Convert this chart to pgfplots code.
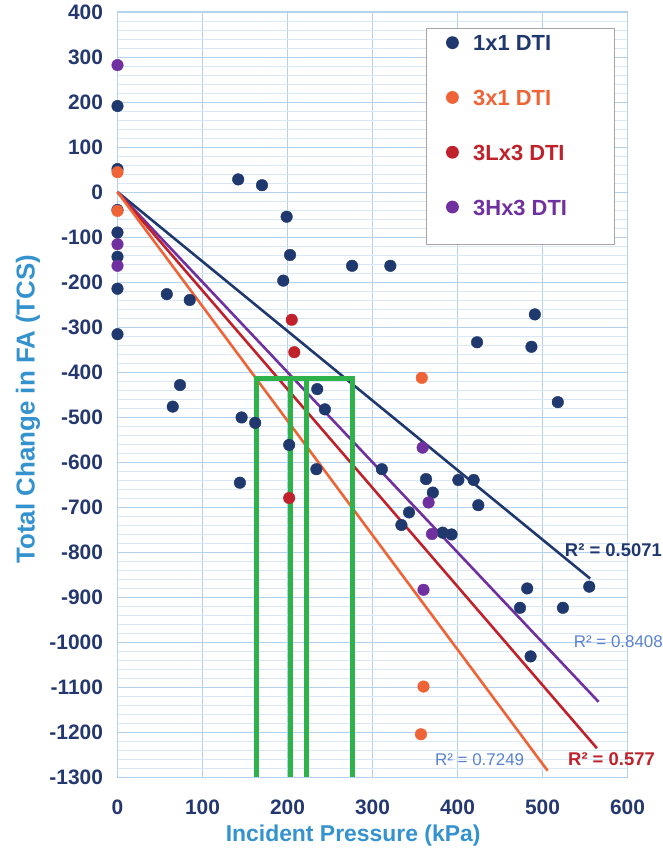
\documentclass[border=0pt]{standalone}
\usepackage{pgfplots}
\pgfplotsset{compat=1.18}
\usepackage{fontspec}
\setmainfont{Liberation Sans}
\definecolor{navy}{HTML}{1F386E}
\definecolor{tickc}{HTML}{24386F}
\definecolor{orng}{HTML}{EF6436}
\definecolor{redd}{HTML}{C0222B}
\definecolor{purp}{HTML}{7030A0}
\definecolor{labc}{HTML}{3492CE}
\definecolor{rlight}{HTML}{5A82CF}
\definecolor{grn}{HTML}{2DB34A}
\definecolor{gridmaj}{HTML}{B4D2EE}
\definecolor{gridmin}{HTML}{D8E8F6}

\pgfplotsset{
  dotlegend/.style={legend image code/.code={\draw[mark repeat=2,mark phase=2,##1] plot coordinates {(0cm,8bp) (0.3cm,8bp) (0.6cm,8bp)};}},
  deeplegend/.style={legend image code/.code={\draw[mark repeat=2,mark phase=2,##1] plot coordinates {(0cm,8bp) (0.3cm,8bp) (0.6cm,8bp)}; \path (0.3cm,-27bp);}},
}

\pgfplotstableread{
x y
0 191
0 51
0 -40
0 -90
0 -144
0 -215
0 -316
58 -227
85 -240
142 28
170 15
199 -55
203 -140
195 -197
73.5 -429
65 -477
235 -438
244 -483
146 -501
162 -513
202 -562
234 -616
144 -646
276 -164
321 -164
491 -272
423 -334
487 -344
518 -467
311 -616
363 -638
401 -640
419 -640
371 -668
424.5 -696
343 -712
334 -740
382.6 -757
393 -761
482 -881
555 -877
473.5 -924
524 -924
486 -1032
}\dataA
\pgfplotstableread{
x y
0 44
0 -42
358 -413
360 -1099
357 -1205
}\dataB
\pgfplotstableread{
x y
205 -284
208 -356
202 -680
}\dataC
\pgfplotstableread{
x y
0 282
0 -116
0 -164
359 -568
366 -690
370 -760
360 -884
}\dataD

\newcommand{\legtxt}[2]{\hspace*{11bp}\makebox[117bp][l]{\textcolor{#1}{#2}}}

\begin{document}
\begin{tikzpicture}
\begin{axis}[
  scale only axis,
  width=510bp, height=765bp,
  xmin=0, xmax=600, ymin=-1300, ymax=400,
  xtick={0,100,...,600},
  ytick={-1300,-1200,...,400},
  minor y tick num=4,
  xmajorgrids, ymajorgrids, yminorgrids,
  major grid style={color=gridmaj, line width=0.9bp},
  minor grid style={color=gridmin, line width=0.6bp},
  axis line style={draw=gridmaj, line width=1bp},
  major tick length=0pt, minor tick length=0pt,
  clip=false,
  /pgf/number format/assume math mode=true,
  /pgf/number format/1000 sep={},
  xticklabel style={font=\fontsize{21}{21}\selectfont\bfseries, text=tickc, yshift=-19bp},
  yticklabel style={font=\fontsize{21}{21}\selectfont\bfseries, text=tickc, xshift=-11bp},
  xlabel={Incident Pressure (kPa)},
  ylabel={Total Change in FA (TCS)},
  xlabel style={font=\fontsize{23}{23}\selectfont\bfseries, text=labc, at={(axis description cs:0.462,-0.076)}, anchor=center},
  ylabel style={font=\fontsize{26}{26}\selectfont\bfseries, text=labc, at={(axis description cs:-0.1755,0.481)}, anchor=center},
  dotlegend,
  legend style={at={(axis description cs:0.605,0.979)}, anchor=north west,
    draw=gray!70, line width=1.2bp, fill=white,
    font=\fontsize{22}{22}\selectfont\bfseries,
    inner xsep=20bp, inner ysep=2bp, row sep=29.3bp,
    cells={anchor=base west},
    nodes={text height=16bp, inner sep=4bp}},
]
\addplot[only marks, mark=*, mark size=5.8bp, color=navy] table {\dataA};
\addlegendentry{\legtxt{navy}{1x1 DTI}}
\addplot[only marks, mark=*, mark size=5.8bp, color=orng] table {\dataB};
\addlegendentry{\legtxt{orng}{3x1 DTI}}
\addplot[only marks, mark=*, mark size=5.8bp, color=redd] table {\dataC};
\addlegendentry{\legtxt{redd}{3Lx3 DTI}}
\addplot[only marks, mark=*, mark size=5.8bp, color=purp, deeplegend] table {\dataD};
\addlegendentry{\legtxt{purp}{3Hx3 DTI}}

% trendlines
\addplot[forget plot, navy, line width=2.6bp] coordinates {(0,0) (556,-859)};
\addplot[forget plot, purp, line width=2.6bp] coordinates {(0,0) (566,-1133)};
\addplot[forget plot, redd, line width=2.6bp] coordinates {(0,0) (564,-1236)};
\addplot[forget plot, orng, line width=2.6bp] coordinates {(0,0) (506,-1286)};

% green boxes
\addplot[forget plot, grn, line width=5bp, line join=miter] coordinates {(163,-1300) (163,-415) (277,-415) (277,-1300)};
\addplot[forget plot, grn, line width=5bp] coordinates {(203,-415) (203,-1300)};
\addplot[forget plot, grn, line width=5bp] coordinates {(222,-415) (222,-1300)};

\node[anchor=east, font=\fontsize{18.5}{18.5}\selectfont\bfseries, text=navy, inner sep=0pt] at (axis cs:640.6,-795.6) {R² = 0.5071};
\node[anchor=east, font=\fontsize{17}{17}\selectfont, text=rlight, inner sep=0pt] at (axis cs:641.8,-1000) {R² = 0.8408};
\node[anchor=west, font=\fontsize{17}{17}\selectfont, text=rlight, inner sep=0pt] at (axis cs:373.5,-1262) {R² = 0.7249};
\node[anchor=west, font=\fontsize{18.5}{18.5}\selectfont\bfseries, text=redd, inner sep=0pt] at (axis cs:530,-1260) {R² = 0.577};
\end{axis}
\pgfresetboundingbox
\path[use as bounding box] (-117.5bp,-77bp) rectangle (545.5bp,777bp);
\end{tikzpicture}
\end{document}
